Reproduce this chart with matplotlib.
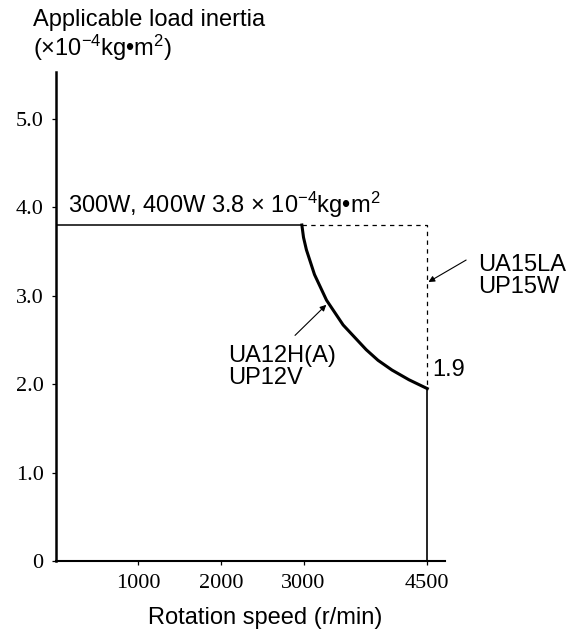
import numpy as np
import matplotlib
matplotlib.use("Agg")
import matplotlib.pyplot as plt

# Data
speed_curve = [2980, 3000, 3035, 3133, 3279, 3480, 3760, 3903, 4072, 4278, 4500]
inertia_curve = [3.8, 3.66, 3.52, 3.24, 2.95, 2.67, 2.39, 2.27, 2.16, 2.05, 1.95]
flat_speed = [0, 2980]
flat_inertia = [3.8, 3.8]
ua15_speed = [2980, 4500, 4500]
ua15_inertia = [3.8, 3.8, 1.95]
xticks = [1000, 2000, 3000, 4500]
yticks = [0, 1.0, 2.0, 3.0, 4.0, 5.0]
ytick_labels = ["0", "1.0", "2.0", "3.0", "4.0", "5.0"]

SANS = "Liberation Sans"
SERIF = "Liberation Serif"
FS = 17
TFS = 16

plt.rcParams["mathtext.fontset"] = "custom"
plt.rcParams["mathtext.rm"] = SANS
plt.rcParams["mathtext.it"] = SANS + ":italic"
plt.rcParams["mathtext.bf"] = SANS + ":bold"

fig = plt.figure(figsize=(5.69, 6.35), dpi=100)
ax = fig.add_axes([0.0984, 0.1165, 0.6837, 0.770])
ax.set_xlim(0, 4715)
ax.set_ylim(0, 5.53)

# lines
ax.plot(flat_speed, flat_inertia, color="black", lw=1.1, solid_capstyle="butt")
ax.plot(speed_curve, inertia_curve, color="black", lw=2.2)
ax.plot(ua15_speed, ua15_inertia, color="black", lw=0.9, dashes=(3.5, 3.5))
ax.plot([4500, 4500], [0, 1.95], color="black", lw=1.2)

# spines
for s in ["top", "right"]:
    ax.spines[s].set_visible(False)
ax.spines["left"].set_linewidth(1.8)
ax.spines["bottom"].set_linewidth(1.5)

ax.set_xticks(xticks)
ax.set_xticklabels([str(v) for v in xticks], fontfamily=SERIF, fontsize=TFS)
ax.set_yticks(yticks)
ax.set_yticklabels(ytick_labels, fontfamily=SERIF, fontsize=TFS)
ax.tick_params(axis="both", direction="out", length=3, width=0.9, pad=6)

# annotations
ax.text(145, 3.86, "300W, 400W 3.8 \u00d7 10$^{-4}$kg\u2022m$^{2}$",
        fontfamily=SANS, fontsize=FS, va="bottom", ha="left")
ax.text(5115, 3.22, "UA15LA\nUP15W", fontfamily=SANS, fontsize=FS,
        va="center", ha="left", linespacing=1.0, clip_on=False)
ax.text(2085, 2.2, "UA12H(A)\nUP12V", fontfamily=SANS, fontsize=FS,
        va="center", ha="left", linespacing=1.0)
ax.text(4557, 2.16, "1.9", fontfamily=SANS, fontsize=FS, va="center", ha="left")

ax.annotate("", xy=(4485, 3.14), xytext=(5000, 3.42),
            arrowprops=dict(arrowstyle="-|>", color="black", lw=0.8,
                            mutation_scale=9), annotation_clip=False)
ax.annotate("", xy=(3300, 2.92), xytext=(2873, 2.53),
            arrowprops=dict(arrowstyle="-|>", color="black", lw=0.8,
                            mutation_scale=9))

# axis titles
fig.text(33 / 569, 1 - 20 / 635, "Applicable load inertia",
         fontfamily=SANS, fontsize=FS, va="center", ha="left")
fig.text(33 / 569, 1 - 48 / 635, "(\u00d710$^{-4}$kg\u2022m$^{2}$)",
         fontfamily=SANS, fontsize=FS, va="center", ha="left")
fig.text(265 / 569, 1 - 618 / 635, "Rotation speed (r/min)",
         fontfamily=SANS, fontsize=FS, va="center", ha="center")

fig.savefig("out.png", dpi=100)
